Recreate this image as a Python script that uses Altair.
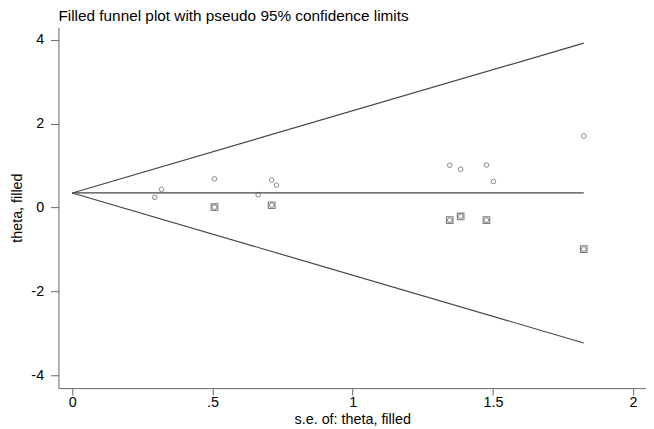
import altair as alt
import pandas as pd

# ---- data ----
title_text = "Filled funnel plot with pseudo 95% confidence limits"
x_title = "s.e. of: theta, filled"
y_title = "theta, filled"

se_obs = [0.294, 0.318, 0.507, 0.663, 0.711, 0.728, 1.346, 1.385, 1.477, 1.502, 1.824]
theta_obs = [0.243, 0.432, 0.684, 0.307, 0.653, 0.535, 1.007, 0.912, 1.014, 0.620, 1.705]

se_fill = [0.507, 0.711, 1.346, 1.385, 1.477, 1.824]
theta_fill = [0.007, 0.054, -0.300, -0.212, -0.300, -0.990]

funnel_se = [0.0, 1.824]
funnel_upper = [0.347, 3.92]
funnel_lower = [0.347, -3.23]
funnel_center = [0.347, 0.347]

x_ticks = [0, 0.5, 1, 1.5, 2]
y_ticks = [-4, -2, 0, 2, 4]

FONT = "Liberation Sans"

# ---- tables ----
lines_rows = []
for name, vals in [("upper", funnel_upper), ("lower", funnel_lower), ("center", funnel_center)]:
    for s, t in zip(funnel_se, vals):
        lines_rows.append({"se": s, "theta": t, "line": name})
lines_df = pd.DataFrame(lines_rows)

all_df = pd.DataFrame({"se": se_obs + se_fill, "theta": theta_obs + theta_fill})
fill_df = pd.DataFrame({"se": se_fill, "theta": theta_fill})
title_df = pd.DataFrame({"t": [title_text]})

x_scale = alt.Scale(domain=[-0.0494, 2.046], nice=False, zero=False)
y_scale = alt.Scale(domain=[-4.307, 4.302], nice=False, zero=False)

x_axis = alt.Axis(values=x_ticks, title=x_title,
                  labelExpr="datum.value == 0.5 ? '.5' : format(datum.value, '~g')",
                  tickSize=7, labelPadding=1, titlePadding=3)
y_axis = alt.Axis(values=y_ticks, title=y_title,
                  labelExpr="'' + datum.value",
                  tickSize=8, labelPadding=7, titlePadding=6)

X = alt.X("se:Q", scale=x_scale, axis=x_axis)
Y = alt.Y("theta:Q", scale=y_scale, axis=y_axis)

lines = alt.Chart(lines_df).mark_line(color="#444444", strokeWidth=1.2).encode(
    x=X, y=Y, detail="line:N", order="se:Q"
)

circles = alt.Chart(all_df).mark_point(
    shape="circle", size=22, filled=False, color="#555555", strokeWidth=1
).encode(x="se:Q", y="theta:Q")

squares = alt.Chart(fill_df).mark_point(
    shape="square", size=45, filled=False, color="#444444", strokeWidth=1.1
).encode(x="se:Q", y="theta:Q")

title = alt.Chart(title_df).mark_text(
    align="left", baseline="alphabetic", fontSize=15.5, font=FONT, color="#000000"
).encode(x=alt.value(0), y=alt.value(-6), text="t:N")

chart = alt.layer(lines, circles, squares, title).properties(
    width=594, height=365,
    padding={"left": 51, "top": 17, "right": 0, "bottom": 39},
    autosize=alt.AutoSizeParams(type="none"),
).configure_view(stroke=None).configure_axis(
    grid=False,
    domainColor="#666666", tickColor="#666666",
    labelColor="#000000", titleColor="#000000",
    labelFont=FONT, titleFont=FONT,
    labelFontSize=14.5, titleFontSize=14.5, titleFontWeight="normal",
)

chart.save("out.html", embed_options={"renderer": "svg", "actions": False})
